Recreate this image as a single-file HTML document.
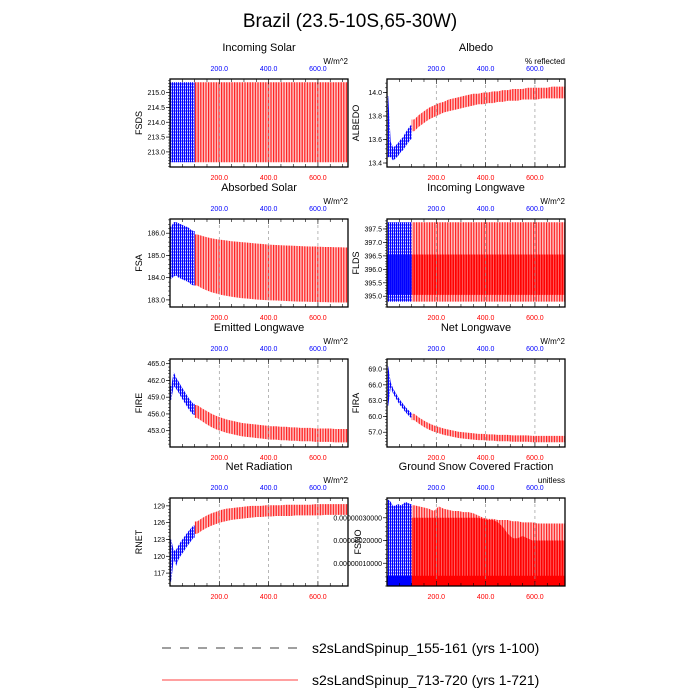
<!DOCTYPE html>
<html><head><meta charset="utf-8">
<style>
html,body{margin:0;padding:0;background:#fff;}
svg{display:block;font-family:"Liberation Sans",sans-serif;}
</style></head>
<body>
<svg id="chart" width="700" height="700" viewBox="0 0 700 700">
<defs>
<pattern id="redStripe" patternUnits="userSpaceOnUse" width="2.6" height="10"><rect width="2.6" height="10" fill="#ffc4c4"/><rect width="1.2" height="10" fill="#ff2020"/></pattern>
<pattern id="redDense" patternUnits="userSpaceOnUse" width="2.6" height="10"><rect width="2.6" height="10" fill="#ff6a6a"/><rect width="1.7" height="10" fill="#ff0000"/></pattern>
<pattern id="blueStripe" patternUnits="userSpaceOnUse" width="2" height="3"><rect width="2" height="3" fill="#9a9aff"/><rect width="1.2" height="3" fill="#0000ff"/><rect x="1.2" y="1" width="0.8" height="1" fill="#ffffff"/></pattern>
<pattern id="blueDense" patternUnits="userSpaceOnUse" width="2" height="3"><rect width="2" height="3" fill="#3030ff"/><rect width="1.4" height="3" fill="#0000ff"/></pattern>
</defs>
<text x="350" y="27" font-size="19" text-anchor="middle" fill="#000">Brazil (23.5-10S,65-30W)</text>
<g id="panels"></g>
<g>
<line x1="162" y1="648" x2="298" y2="648" stroke="#000" stroke-width="0.8" stroke-dasharray="9,9"/>
<text x="312" y="653" font-size="14">s2sLandSpinup_155-161 (yrs 1-100)</text>
<line x1="162" y1="680" x2="298" y2="680" stroke="#ff0000" stroke-width="0.8"/>
<text x="312" y="685" font-size="14">s2sLandSpinup_713-720 (yrs 1-721)</text>
</g>
</svg>
<script>
const redYears=[110,130,150,170,190,210,230,250,270,290,310,330,350,370,390,410,430,450,470,490,510,530,550,570,590,610,630,650,670,690,710];
const blueYears=[5,15,25,35,45,55,65,75,85,95];
const xTicks=[200,400,600];

const fsdsRedHi=[215.35,215.35,215.35,215.35,215.35,215.35,215.35,215.35,215.35,215.35,215.35,215.35,215.35,215.35,215.35,215.35,215.35,215.35,215.35,215.35,215.35,215.35,215.35,215.35,215.35,215.35,215.35,215.35,215.35,215.35,215.35];
const fsdsRedLo=[212.65,212.65,212.65,212.65,212.65,212.65,212.65,212.65,212.65,212.65,212.65,212.65,212.65,212.65,212.65,212.65,212.65,212.65,212.65,212.65,212.65,212.65,212.65,212.65,212.65,212.65,212.65,212.65,212.65,212.65,212.65];
const fsdsBlueHi=[215.35,215.35,215.35,215.35,215.35,215.35,215.35,215.35,215.35,215.35];
const fsdsBlueLo=[212.65,212.65,212.65,212.65,212.65,212.65,212.65,212.65,212.65,212.65];
const fsdsTicks=[213.0,213.5,214.0,214.5,215.0];

const albRedHi=[13.77,13.81,13.84,13.87,13.89,13.91,13.92,13.94,13.95,13.96,13.97,13.98,13.99,13.99,14.00,14.00,14.01,14.01,14.02,14.02,14.03,14.03,14.03,14.04,14.04,14.04,14.04,14.04,14.05,14.05,14.05];
const albRedLo=[13.67,13.71,13.74,13.77,13.79,13.81,13.83,13.84,13.85,13.86,13.87,13.88,13.89,13.90,13.90,13.91,13.91,13.92,13.92,13.93,13.93,13.93,13.94,13.94,13.94,13.94,13.95,13.95,13.95,13.95,13.95];
const albBlueHi=[13.97,13.58,13.53,13.55,13.57,13.60,13.62,13.66,13.69,13.72];
const albBlueLo=[13.45,13.45,13.42,13.44,13.46,13.49,13.51,13.54,13.57,13.60];
const albTicks=[13.4,13.6,13.8,14.0];

const fsaRedHi=[185.95,185.88,185.82,185.77,185.73,185.70,185.67,185.64,185.62,185.60,185.58,185.56,185.54,185.52,185.50,185.48,185.47,185.46,185.45,185.44,185.43,185.42,185.41,185.40,185.40,185.39,185.38,185.38,185.37,185.37,185.36];
const fsaRedLo=[183.65,183.52,183.42,183.34,183.28,183.22,183.18,183.14,183.11,183.08,183.06,183.04,183.02,183.00,182.99,182.98,182.97,182.96,182.95,182.94,182.93,182.92,182.92,182.91,182.91,182.90,182.90,182.89,182.89,182.88,182.88];
const fsaBlueHi=[186.3,186.5,186.5,186.45,186.4,186.35,186.3,186.25,186.15,186.1];
const fsaBlueLo=[183.95,184.05,184.1,184.0,183.95,183.9,183.85,183.8,183.7,183.65];
const fsaTicks=[183,184,185,186];

const fldsRedHi=[397.75,397.75,397.75,397.75,397.75,397.75,397.75,397.75,397.75,397.75,397.75,397.75,397.75,397.75,397.75,397.75,397.75,397.75,397.75,397.75,397.75,397.75,397.75,397.75,397.75,397.75,397.75,397.75,397.75,397.75,397.75];
const fldsRedLo=[394.8,394.8,394.8,394.8,394.8,394.8,394.8,394.8,394.8,394.8,394.8,394.8,394.8,394.8,394.8,394.8,394.8,394.8,394.8,394.8,394.8,394.8,394.8,394.8,394.8,394.8,394.8,394.8,394.8,394.8,394.8];
const fldsRedDenseHi=[396.55,396.55,396.55,396.55,396.55,396.55,396.55,396.55,396.55,396.55,396.55,396.55,396.55,396.55,396.55,396.55,396.55,396.55,396.55,396.55,396.55,396.55,396.55,396.55,396.55,396.55,396.55,396.55,396.55,396.55,396.55];
const fldsRedDenseLo=[395.05,395.05,395.05,395.05,395.05,395.05,395.05,395.05,395.05,395.05,395.05,395.05,395.05,395.05,395.05,395.05,395.05,395.05,395.05,395.05,395.05,395.05,395.05,395.05,395.05,395.05,395.05,395.05,395.05,395.05,395.05];
const fldsBlueHi=[397.75,397.75,397.75,397.75,397.75,397.75,397.75,397.75,397.75,397.75];
const fldsBlueLo=[394.8,394.8,394.8,394.8,394.8,394.8,394.8,394.8,394.8,394.8];
const fldsBlueDenseHi=[396.55,396.55,396.55,396.55,396.55,396.55,396.55,396.55,396.55,396.55];
const fldsBlueDenseLo=[395.05,395.05,395.05,395.05,395.05,395.05,395.05,395.05,395.05,395.05];
const fldsTicks=[395.0,395.5,396.0,396.5,397.0,397.5];

const fireRedHi=[457.6,457.0,456.5,456.0,455.6,455.3,455.0,454.8,454.6,454.4,454.3,454.2,454.1,454.0,453.9,453.8,453.8,453.7,453.7,453.6,453.6,453.5,453.5,453.5,453.4,453.4,453.4,453.4,453.3,453.3,453.3];
const fireRedLo=[455.3,454.7,454.1,453.6,453.2,452.9,452.6,452.4,452.2,452.0,451.9,451.8,451.7,451.6,451.5,451.4,451.4,451.3,451.3,451.2,451.2,451.1,451.1,451.1,451.0,451.0,451.0,451.0,450.9,450.9,450.9];
const fireBlueHi=[461.0,463.5,462.5,461.8,461.0,460.3,459.6,458.9,458.3,457.8];
const fireBlueLo=[458.5,461.0,460.5,459.8,459.0,458.3,457.6,456.9,456.3,455.8];
const fireTicks=[453,456,459,462,465];

const firaRedHi=[60.5,59.8,59.2,58.7,58.3,58.0,57.7,57.5,57.3,57.1,57.0,56.9,56.8,56.7,56.7,56.6,56.6,56.5,56.5,56.5,56.4,56.4,56.4,56.4,56.3,56.3,56.3,56.3,56.3,56.3,56.3];
const firaRedLo=[59.3,58.6,58.0,57.5,57.1,56.8,56.5,56.3,56.1,55.9,55.8,55.7,55.6,55.5,55.5,55.4,55.4,55.3,55.3,55.3,55.2,55.2,55.2,55.2,55.1,55.1,55.1,55.1,55.1,55.1,55.1];
const firaBlueHi=[69.5,66.5,65.3,64.5,63.7,63.0,62.4,61.8,61.3,60.8];
const firaBlueLo=[62.0,65.5,64.3,63.5,62.7,62.0,61.4,60.8,60.3,59.8];
const firaTicks=[57,60,63,66,69];

const rnetRedHi=[126.2,126.8,127.3,127.7,128.0,128.3,128.5,128.6,128.7,128.8,128.9,129.0,129.0,129.0,129.1,129.1,129.1,129.1,129.2,129.2,129.2,129.2,129.2,129.2,129.3,129.3,129.3,129.3,129.3,129.3,129.3];
const rnetRedLo=[124.0,124.6,125.1,125.5,125.8,126.1,126.3,126.5,126.6,126.7,126.8,126.9,127.0,127.0,127.1,127.1,127.2,127.2,127.2,127.2,127.3,127.3,127.3,127.3,127.3,127.3,127.4,127.4,127.4,127.4,127.4];
const rnetBlueHi=[123.0,121.0,121.2,122.0,122.7,123.3,123.9,124.5,125.0,125.5];
const rnetBlueLo=[115.5,119.5,118.3,119.5,120.2,120.8,121.5,122.1,122.7,123.3];
const rnetTicks=[117,120,123,126,129];

// FSNO values in units of 1e-7
const fsnoRedHi=[3.55,3.5,3.45,3.4,3.3,3.5,3.4,3.35,3.3,3.3,3.25,3.25,3.2,3.1,3.0,2.95,2.95,2.9,2.9,2.9,2.85,2.85,2.8,2.8,2.8,2.75,2.75,2.75,2.75,2.75,2.75];
const fsnoRedLo=[0,0,0,0,0,0,0,0,0,0,0,0,0,0,0,0,0,0,0,0,0,0,0,0,0,0,0,0,0,0,0];
const fsnoRedDenseHi=[3.0,3.0,3.0,3.0,3.0,3.0,3.0,3.0,3.0,3.0,3.0,3.0,3.0,3.0,2.95,2.9,2.9,2.8,2.6,2.3,2.1,2.1,2.2,2.1,2.0,2.0,2.0,2.0,2.0,2.0,2.0];
const fsnoRedDenseLo=[0.4,0.4,0.4,0.4,0.4,0.4,0.4,0.4,0.4,0.4,0.4,0.4,0.4,0.4,0.4,0.4,0.4,0.4,0.4,0.4,0.4,0.4,0.4,0.4,0.4,0.4,0.4,0.4,0.4,0.4,0.4];
const fsnoBlueHi=[3.8,3.7,3.5,3.55,3.6,3.55,3.6,3.7,3.65,3.6];
const fsnoBlueLo=[0,0,0,0,0,0,0,0,0,0];
const fsnoTicks=[1,2,3];
const fsnoTickLabels=["0.00000010000","0.00000020000","0.00000030000"];

const panels=[
 {name:'incoming-solar',title:'Incoming Solar',yl:'FSDS',unit:'W/m^2',col:0,row:0,ymin:212.49,ymax:215.46,rh:fsdsRedHi,rl:fsdsRedLo,bh:fsdsBlueHi,bl:fsdsBlueLo,ticks:fsdsTicks,dec:1},
 {name:'albedo',title:'Albedo',yl:'ALBEDO',unit:'% reflected',col:1,row:0,ymin:13.366,ymax:14.115,rh:albRedHi,rl:albRedLo,bh:albBlueHi,bl:albBlueLo,ticks:albTicks,dec:1},
 {name:'absorbed-solar',title:'Absorbed Solar',yl:'FSA',unit:'W/m^2',col:0,row:1,ymin:182.68,ymax:186.64,rh:fsaRedHi,rl:fsaRedLo,bh:fsaBlueHi,bl:fsaBlueLo,ticks:fsaTicks,dec:1},
 {name:'incoming-longwave',title:'Incoming Longwave',yl:'FLDS',unit:'W/m^2',col:1,row:1,ymin:394.6,ymax:397.87,rh:fldsRedHi,rl:fldsRedLo,bh:fldsBlueHi,bl:fldsBlueLo,rdh:fldsRedDenseHi,rdl:fldsRedDenseLo,bdh:fldsBlueDenseHi,bdl:fldsBlueDenseLo,ticks:fldsTicks,dec:1},
 {name:'emitted-longwave',title:'Emitted Longwave',yl:'FIRE',unit:'W/m^2',col:0,row:2,ymin:450.08,ymax:465.84,rh:fireRedHi,rl:fireRedLo,bh:fireBlueHi,bl:fireBlueLo,ticks:fireTicks,dec:1},
 {name:'net-longwave',title:'Net Longwave',yl:'FIRA',unit:'W/m^2',col:1,row:2,ymin:54.2,ymax:70.9,rh:firaRedHi,rl:firaRedLo,bh:firaBlueHi,bl:firaBlueLo,ticks:firaTicks,dec:1},
 {name:'net-radiation',title:'Net Radiation',yl:'RNET',unit:'W/m^2',col:0,row:3,ymin:114.7,ymax:130.4,rh:rnetRedHi,rl:rnetRedLo,bh:rnetBlueHi,bl:rnetBlueLo,ticks:rnetTicks,dec:0},
 {name:'ground-snow-covered-fraction',title:'Ground Snow Covered Fraction',yl:'FSNO',unit:'unitless',col:1,row:3,ymin:0,ymax:3.87,rh:fsnoRedHi,rl:fsnoRedLo,bh:fsnoBlueHi,bl:fsnoBlueLo,rdh:fsnoRedDenseHi,rdl:fsnoRedDenseLo,ticks:fsnoTicks,tickLabels:fsnoTickLabels,dec:0,bottomDense:0.45}
];

const NS='http://www.w3.org/2000/svg';
const root=document.getElementById('panels');
const colX=[170,387], rowY=[79,219,359,498], PW=178, PH=88, XMAX=722;
function mk(tag,attrs,parent){const e=document.createElementNS(NS,tag);for(const k in attrs)e.setAttribute(k,attrs[k]);parent.appendChild(e);return e;}

panels.forEach(p=>{
 const L=colX[p.col],T=rowY[p.row],R=L+PW,B=T+PH;
 const xs=v=>L+v/XMAX*PW;
 const ys=v=>B-(v-p.ymin)/(p.ymax-p.ymin)*PH;
 const g=mk('g',{},root);
 
 
 const clipId='clip-'+p.name;
 const cp=mk('clipPath',{id:clipId},g);mk('rect',{x:L,y:T,width:PW,height:PH},cp);
 const marks=mk('g',{'clip-path':'url(#'+clipId+')'},g);
 xTicks.forEach(t=>{const l=mk('line',{x1:xs(t),x2:xs(t),y1:T,y2:B,stroke:'#999','stroke-width':0.7,'stroke-dasharray':'3,3'},g);
  
  });
 function band(years,hi,lo,fill,nm,x0yr,x1yr){
  const n=years.length;
  const top=[[x0yr,hi[0]]].concat(years.map((y,i)=>[y,hi[i]])).concat([[x1yr,hi[n-1]]]);
  const bot=[[x0yr,lo[0]]].concat(years.map((y,i)=>[y,lo[i]])).concat([[x1yr,lo[n-1]]]).reverse();
  const pts=top.concat(bot).map(q=>xs(q[0]).toFixed(2)+','+ys(q[1]).toFixed(2)).join(' ');
  const poly=mk('polygon',{points:pts,fill:fill},marks);
  
  
 }
 band(redYears,p.rh,p.rl,'url(#redStripe)','red-series-band',100,XMAX);
 if(p.rdh) band(redYears,p.rdh,p.rdl,'url(#redDense)','red-series-dense-band',100,XMAX);
 if(p.bottomDense){const r=mk('rect',{x:xs(100),y:ys(p.bottomDense),width:R-xs(100),height:B-ys(p.bottomDense),fill:'#ff0000'},marks);
  
  }
 band(blueYears,p.bh,p.bl,'url(#blueStripe)','blue-series-band',0,100);
 if(p.bdh) band(blueYears,p.bdh,p.bdl,'url(#blueDense)','blue-series-dense-band',0,100);
 if(p.bottomDense){const r=mk('rect',{x:L,y:ys(p.bottomDense),width:xs(100)-L,height:B-ys(p.bottomDense),fill:'#0000ff'},marks);
  
  }
 const fr=mk('rect',{x:L,y:T,width:PW,height:PH,fill:'none',stroke:'#000','stroke-width':1.3},g);
 
 
 for(let t=50;t<XMAX;t+=50){const len=(t%200===0)?5:3;
  mk('line',{x1:xs(t),x2:xs(t),y1:B,y2:B-len,stroke:'#000','stroke-width':0.6},g);
  mk('line',{x1:xs(t),x2:xs(t),y1:T,y2:T+len,stroke:'#000','stroke-width':0.6},g);}
 xTicks.forEach(t=>{
  const a=mk('text',{x:xs(t),y:B+13,'font-size':7,'text-anchor':'middle',fill:'#ff0000'},g);a.textContent=t.toFixed(1);
  
  
  const b=mk('text',{x:xs(t),y:T-8,'font-size':7,'text-anchor':'middle',fill:'#0000ff'},g);b.textContent=t.toFixed(1);
  
  
 });
 const step=p.ticks[1]-p.ticks[0];
 for(let v=p.ticks[0]-step;v<=p.ymax+1e-9;v+=step/5){if(v<p.ymin)continue;
  mk('line',{x1:L,x2:L-2,y1:ys(v),y2:ys(v),stroke:'#000','stroke-width':0.5},g);}
 p.ticks.forEach((t,i)=>{
  mk('line',{x1:L,x2:L-4,y1:ys(t),y2:ys(t),stroke:'#000','stroke-width':0.7},g);
  const tx=mk('text',{x:L-5,y:ys(t)+2.5,'font-size':7,'text-anchor':'end',fill:'#000'},g);
  tx.textContent=p.tickLabels?p.tickLabels[i]:t.toFixed(p.dec);
  
  
 });
 const yt=mk('text',{x:0,y:0,'font-size':9,'text-anchor':'middle',fill:'#000',transform:'translate('+(p.tickLabels?L-26:L-28)+','+(T+PH/2)+') rotate(-90)'},g);
 yt.textContent=p.yl;
 
 
 const ti=mk('text',{x:L+PW/2,y:T-28,'font-size':11,'text-anchor':'middle',fill:'#000'},g);ti.textContent=p.title;
 
 
 const un=mk('text',{x:R,y:T-15,'font-size':8,'text-anchor':'end',fill:'#000'},g);un.textContent=p.unit;
 
 
});
</script>
</body></html>
